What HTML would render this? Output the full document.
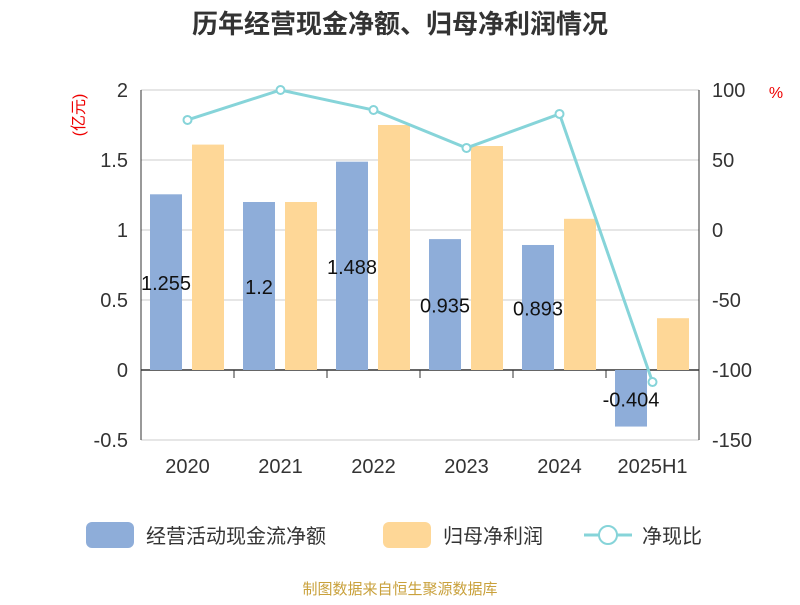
<!DOCTYPE html>
<html><head><meta charset="utf-8"><style>
body{margin:0;background:#fff;}
svg text{font-family:"Liberation Sans","Noto Sans CJK SC",sans-serif;}
</style></head><body>
<svg id="c" width="800" height="600" xmlns="http://www.w3.org/2000/svg"></svg>
<script>
const categories=["2020","2021","2022","2023","2024","2025H1"];
const cashFlow=[1.255,1.2,1.488,0.935,0.893,-0.404];
const netProfit=[1.61,1.2,1.75,1.6,1.08,0.37];
const ratio=[78.6,100,85.7,58.6,82.9,-108.6];
const leftTicks=[2,1.5,1,0.5,0,-0.5];
const leftTickLabels=["2","1.5","1","0.5","0","-0.5"];
const rightTicks=[100,50,0,-50,-100,-150];
const svg=document.getElementById('c');
const NS='http://www.w3.org/2000/svg';
const X0=141,X1=699,band=(X1-X0)/categories.length;
const yL=v=>370-v*140;
const yR=v=>230-v*1.4;
function el(tag,attrs,parent){const e=document.createElementNS(NS,tag);for(const k in attrs)e.setAttribute(k,attrs[k]);(parent||svg).appendChild(e);return e;}
function txt(s,attrs){const t=el('text',attrs);t.textContent=s;return t;}
let t=txt("历年经营现金净额、归母净利润情况",{x:400,y:33,'text-anchor':'middle','font-size':26,'font-weight':'bold',fill:'#333'});

leftTicks.forEach((v,i)=>{
 const g=el('line',{x1:X0,x2:X1,y1:yL(v),y2:yL(v),stroke:v===0?'#333':'#ccc','stroke-width':v===0?1.5:1});
 
 
 const l=txt(leftTickLabels[i],{x:128,y:yL(v)+7,'text-anchor':'end','font-size':20,fill:'#333'});
 
 
});
rightTicks.forEach(v=>{
 const l=txt(String(v),{x:712,y:yR(v)+7,'font-size':20,fill:'#333'});
 
 
});
let a=el('line',{x1:X0,x2:X0,y1:90,y2:440,stroke:'#333'});
a=el('line',{x1:X1,x2:X1,y1:90,y2:440,stroke:'#333'});
for(let i=1;i<categories.length;i++){const tk=el('line',{x1:X0+i*band,x2:X0+i*band,y1:370,y2:378,stroke:'#333'});}
categories.forEach((c,i)=>{const l=txt(c,{x:X0+band*(i+0.5),y:473,'text-anchor':'middle','font-size':20,fill:'#333'});});
t=txt("(亿元)",{x:0,y:0,'font-size':16,fill:'#e00','text-anchor':'middle',transform:'translate(84,115) rotate(-90)'});
t=txt("%",{x:776,y:98,'font-size':16,fill:'#e00','text-anchor':'middle'});
cashFlow.forEach((v,i)=>{
 const x=X0+band*i+9,y=Math.min(yL(v),yL(0)),h=Math.abs(yL(v)-yL(0));
 const r=el('rect',{x:x,y:y,width:32,height:h,fill:'#8eadd9'});
 
 
 const l=txt(String(v),{x:x+16,y:y+h/2+8,'text-anchor':'middle','font-size':20,fill:'#111'});
 
 
});
netProfit.forEach((v,i)=>{
 const x=X0+band*i+51,y=Math.min(yL(v),yL(0)),h=Math.abs(yL(v)-yL(0));
 const r=el('rect',{x:x,y:y,width:32,height:h,fill:'#fed797'});
 
 
});
const pts=ratio.map((v,i)=>[X0+band*(i+0.5),yR(v)]);
const pl=el('polyline',{points:pts.map(p=>p.join(',')).join(' '),fill:'none',stroke:'#86d4d9','stroke-width':3});

pts.forEach(p=>{const c=el('circle',{cx:p[0],cy:p[1],r:4,fill:'#fff',stroke:'#86d4d9','stroke-width':2});});
// legend
let g=el('g',{});
el('rect',{x:86,y:522,width:48,height:26,rx:6,fill:'#8eadd9'},g);
let tt=el('text',{x:146,y:543,'font-size':20,fill:'#333'},g);tt.textContent="经营活动现金流净额";
g=el('g',{});
el('rect',{x:383,y:522,width:48,height:26,rx:6,fill:'#fed797'},g);
tt=el('text',{x:443,y:543,'font-size':20,fill:'#333'},g);tt.textContent="归母净利润";
g=el('g',{});
el('line',{x1:584,x2:632,y1:535,y2:535,stroke:'#86d4d9','stroke-width':3},g);
el('circle',{cx:608,cy:535,r:9,fill:'#fff',stroke:'#86d4d9','stroke-width':2},g);
tt=el('text',{x:642,y:543,'font-size':20,fill:'#333'},g);tt.textContent="净现比";
t=txt("制图数据来自恒生聚源数据库",{x:400,y:594,'text-anchor':'middle','font-size':15,fill:'#c9a13c'});

</script>
</body></html>
